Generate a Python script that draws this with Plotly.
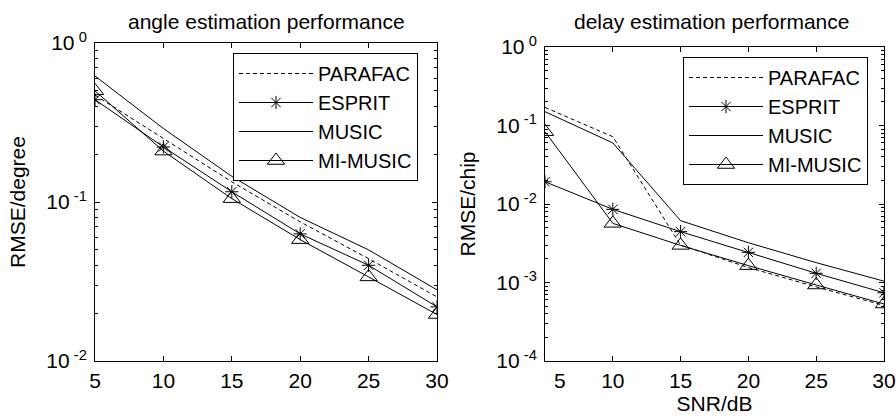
import plotly.graph_objects as go

snr = [5, 10, 15, 20, 25, 30]

angle_parafac = [0.47, 0.25, 0.134, 0.075, 0.044, 0.0253]
angle_esprit = [0.44, 0.222, 0.116, 0.063, 0.040, 0.0219]
angle_music = [0.62, 0.29, 0.145, 0.080, 0.050, 0.028]
angle_mimusic = [0.50, 0.209, 0.105, 0.058, 0.0338, 0.0196]

delay_parafac = [0.17, 0.072, 0.0030, 0.00155, 0.00088, 0.00051]
delay_esprit = [0.0192, 0.00855, 0.00444, 0.00242, 0.00131, 0.00074]
delay_music = [0.15, 0.060, 0.00613, 0.00321, 0.00179, 0.00104]
delay_mimusic = [0.0835, 0.00567, 0.00297, 0.00164, 0.00093, 0.000532]

names = ["PARAFAC", "ESPRIT", "MUSIC", "MI-MUSIC"]
x_ticks = [5, 10, 15, 20, 25, 30]
x_ticks_right = [10, 15, 20, 25, 30]
left_yticks = [0.01, 0.1, 1]
left_ytext = ["10<sup> -2</sup>", "10<sup> -1</sup>", "10<sup> 0</sup>"]
right_yticks = [0.0001, 0.001, 0.01, 0.1, 1]
right_ytext = ["10<sup> -4</sup>", "10<sup> -3</sup>", "10<sup> -2</sup>", "10<sup> -1</sup>", "10<sup> 0</sup>"]

FONT = "Liberation Sans, Arial, Helvetica, sans-serif"
W, H = 896, 416

styles = [
    dict(mode="lines", line=dict(color="black", width=1, dash="4px,3px")),
    dict(mode="lines+markers", line=dict(color="black", width=1),
         marker=dict(symbol="asterisk-open", size=11, line=dict(color="black", width=1))),
    dict(mode="lines", line=dict(color="black", width=1)),
    dict(mode="lines+markers", line=dict(color="black", width=1),
         marker=dict(symbol="triangle-up-open", size=15, color="black", line=dict(color="black", width=1))),
]

fig = go.Figure()
left_series = [angle_parafac, angle_esprit, angle_music, angle_mimusic]
right_series = [delay_parafac, delay_esprit, delay_music, delay_mimusic]
for i, (nm, ys) in enumerate(zip(names, left_series)):
    fig.add_trace(go.Scatter(x=snr, y=ys, name=nm, xaxis="x", yaxis="y",
                             legend="legend", legendgroup="L" + str(i), **styles[i]))
for i, (nm, ys) in enumerate(zip(names, right_series)):
    fig.add_trace(go.Scatter(x=snr, y=ys, name=nm, xaxis="x2", yaxis="y2",
                             legend="legend2", legendgroup="R" + str(i), **styles[i]))

def px_x(p):
    return p / W

def px_y(p):
    return 1 - p / H

axis_common = dict(
    showline=True, linecolor="black", linewidth=1, mirror="allticks",
    ticks="inside", ticklen=5, tickcolor="black", showgrid=False, zeroline=False,
    automargin=False,
    tickfont=dict(family=FONT, size=21, color="black"),
)

minor = dict(ticks="inside", ticklen=3, tickcolor="black", dtick="D1", showgrid=False)

legend_common = dict(
    xanchor="left", yanchor="top",
    bgcolor="white", bordercolor="black", borderwidth=1,
    font=dict(family=FONT, size=20, color="black"),
    itemwidth=74, tracegroupgap=0,
)

fig.update_layout(
    template="none",
    width=W, height=H,
    margin=dict(l=0, r=0, t=0, b=0),
    paper_bgcolor="white", plot_bgcolor="white",
    font=dict(family=FONT, size=21, color="black"),
    xaxis=dict(domain=[px_x(95), px_x(437)], range=[5, 30], tickvals=x_ticks,
               anchor="y", ticklabelstandoff=1, **axis_common),
    yaxis=dict(domain=[px_y(361), px_y(43)], type="log", range=[-2, 0],
               tickvals=left_yticks, ticktext=left_ytext, anchor="x",
               minor=minor, ticklabelstandoff=3,
               title=dict(text="RMSE/degree", font=dict(family=FONT, size=21), standoff=14),
               **axis_common),
    xaxis2=dict(domain=[px_x(545), px_x(884)], range=[5, 30], tickvals=x_ticks_right,
                anchor="y2", ticklabelstandoff=1,
                title=dict(text="SNR/dB", font=dict(family=FONT, size=21), standoff=3),
                **axis_common),
    yaxis2=dict(domain=[px_y(361), px_y(47)], type="log", range=[-4, 0],
                tickvals=right_yticks, ticktext=right_ytext, anchor="x2",
                minor=minor, ticklabelstandoff=3,
                title=dict(text="RMSE/chip", font=dict(family=FONT, size=21), standoff=14),
                **axis_common),
    legend=dict(x=px_x(233), y=px_y(53), **legend_common),
    legend2=dict(x=px_x(683), y=px_y(57), **legend_common),
    annotations=[
        dict(text="angle estimation performance", x=px_x(266), y=px_y(21),
             xref="paper", yref="paper", showarrow=False, xanchor="center", yanchor="middle",
             font=dict(family=FONT, size=21, color="black")),
        dict(text="delay estimation performance", x=px_x(711), y=px_y(21),
             xref="paper", yref="paper", showarrow=False, xanchor="center", yanchor="middle",
             font=dict(family=FONT, size=21, color="black")),
        dict(text="5", x=px_x(560), y=px_y(380), xref="paper", yref="paper",
             showarrow=False, xanchor="center", yanchor="middle",
             font=dict(family=FONT, size=21, color="black")),
    ],
)

fig.write_html("out.html")
